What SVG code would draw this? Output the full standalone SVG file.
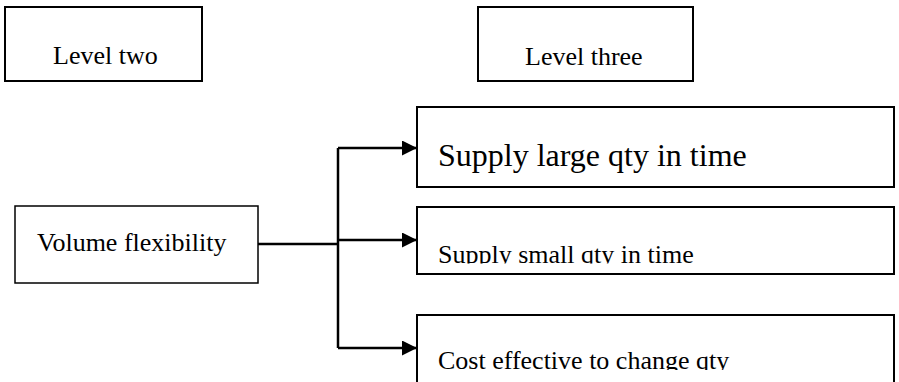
<svg xmlns="http://www.w3.org/2000/svg" width="899" height="382" viewBox="0 0 899 382">
<style>
.box{fill:#fff;stroke:#000;stroke-width:2}
.t{font-family:"Liberation Serif","Times New Roman",serif;font-size:26px;fill:#000}
.c{fill:none;stroke:#000;stroke-width:2.5}
</style>
<defs>
<marker id="ah" viewBox="0 0 15 15" refX="15" refY="7.5" markerWidth="15" markerHeight="15" markerUnits="userSpaceOnUse" orient="auto">
<path d="M0,0 L15,7.5 L0,15 Z" fill="#000"/>
</marker>
<clipPath id="c2"><rect x="417" y="207" width="477" height="56.5"/></clipPath>
<clipPath id="c3"><rect x="417" y="316" width="477" height="54"/></clipPath>
</defs>
<g id="level-two"><rect class="box" x="5" y="7" width="197" height="74"/><text class="t" x="53" y="64">Level two</text></g>
<g id="level-three"><rect class="box" x="478" y="7" width="215" height="74"/><text class="t" x="525" y="65">Level three</text></g>
<g id="volume"><rect class="box" x="15" y="206" width="243" height="77" style="stroke-width:1.5"/><text class="t" x="37" y="251">Volume flexibility</text></g>
<g id="large"><rect class="box" x="417" y="107" width="477" height="80"/><text class="t" x="438" y="166" style="font-size:32px">Supply large qty in time</text></g>
<g id="small"><rect class="box" x="417" y="207" width="477" height="67"/><text class="t" x="438" y="263" clip-path="url(#c2)">Supply small qty in time</text></g>
<g id="cost"><rect class="box" x="417" y="315" width="477" height="80"/><text class="t" x="438" y="369" clip-path="url(#c3)">Cost effective to change qty</text></g>
<g id="connectors">
<path class="c" d="M258,244 H338"/>
<path class="c" d="M338,148 V348"/>
<path class="c" d="M338,148 H417" marker-end="url(#ah)"/>
<path class="c" d="M338,240 H417" marker-end="url(#ah)"/>
<path class="c" d="M338,348 H417" marker-end="url(#ah)"/>
</g>
</svg>
